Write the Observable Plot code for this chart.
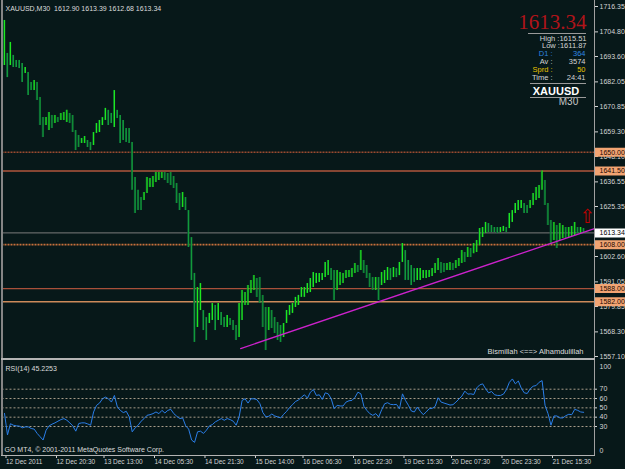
<!DOCTYPE html>
<html><head><meta charset="utf-8">
<script src="https://cdn.jsdelivr.net/npm/d3@7"></script>
<script src="https://cdn.jsdelivr.net/npm/@observablehq/plot@0.6"></script>
<style>
body{margin:0;background:#071819;}
#wrap{position:relative;width:625px;height:469px;overflow:hidden;background:#071819;}
#top{position:absolute;left:0;top:0;}
#bot{position:absolute;left:0;top:361px;}
.ln{position:absolute;z-index:5;}
</style></head><body>
<div id="wrap">
<div id="top"></div><div id="bot"></div>
<div class="ln" style="left:1px;top:0;width:2px;height:456px;background:#858585"></div>
<div class="ln" style="left:594px;top:0;width:1px;height:456px;background:#a0a0a0"></div>
<div class="ln" style="left:1px;top:358px;width:594px;height:2px;background:#b4b4b4"></div>
<div class="ln" style="left:1px;top:455px;width:594px;height:1px;background:#b4b4b4"></div>
<div class="ln" style="left:528px;top:33px;width:58px;height:1px;background:#9a9a9a"></div>
<div class="ln" style="left:530px;top:83px;width:56px;height:1px;background:#9a9a9a"></div>
<div class="ln" style="left:530px;top:97px;width:56px;height:1px;background:#9a9a9a"></div>
</div>
<script>
// ---------- data ----------
const symbol = "XAUUSD", period = "M30";
const lastOHLC = [1612.90, 1613.39, 1612.68, 1613.34];
const bid = 1613.34;
const dayHigh = 1615.51, dayLow = 1611.87, d1 = 364, avg = 3574, spread = 50, timeLeft = "24:41";

const hi = [1710.0,1695.0,1700.0,1694.1,1691.8,1691.8,1690.4,1688.6,1686.3,1681.8,
1682.7,1681.8,1675.0,1665.8,1665.8,1668.1,1666.8,1666.8,1665.8,1667.7,
1668.1,1669.1,1667.7,1666.8,1659.9,1657.7,1656.3,1657.2,1655.4,1654.5,
1659.0,1663.1,1664.5,1665.8,1670.0,1669.1,1667.7,1678.1,1669.1,1666.8,
1664.5,1660.8,1660.8,1654.5,1638.6,1632.7,1629.4,1631.7,1638.6,1638.1,
1639.0,1640.8,1640.8,1640.8,1640.8,1640.4,1640.8,1639.0,1635.8,1631.3,
1631.7,1629.4,1623.5,1611.2,1594.9,1588.5,1590.3,1578.0,1574.8,1576.7,
1581.2,1580.3,1581.2,1577.1,1574.8,1575.8,1574.4,1573.5,1571.2,1581.2,
1587.1,1586.2,1589.4,1591.7,1593.9,1592.6,1593.0,1584.9,1579.4,1579.4,
1578.0,1574.8,1572.6,1571.2,1572.1,1578.0,1580.3,1581.2,1584.0,1584.9,
1588.5,1588.5,1590.3,1592.6,1595.3,1594.9,1594.9,1594.9,1599.9,1600.8,
1597.1,1596.2,1596.2,1595.3,1594.9,1596.2,1596.2,1597.1,1599.4,1598.5,
1605.3,1600.8,1598.5,1594.9,1593.0,1593.0,1593.0,1595.3,1596.2,1597.6,
1597.1,1597.6,1597.1,1599.9,1608.5,1605.3,1600.8,1598.5,1597.1,1597.1,
1597.1,1596.2,1596.2,1596.2,1597.1,1599.4,1601.7,1599.9,1599.4,1599.4,
1599.9,1599.4,1600.8,1601.7,1605.3,1604.4,1606.7,1606.2,1608.5,1609.9,
1615.3,1615.8,1618.1,1617.6,1616.7,1615.8,1615.8,1615.8,1616.3,1615.8,
1622.2,1623.5,1626.7,1628.1,1628.1,1626.7,1625.8,1628.1,1631.3,1634.0,
1634.9,1641.5,1637.2,1626.7,1619.0,1618.1,1616.7,1617.6,1616.7,1615.8,
1615.8,1616.3,1618.1,1615.8,1615.8,1615.3];
const lo = [1689.5,1684.0,1689.5,1688.6,1688.6,1688.1,1681.8,1685.9,1675.9,1678.1,
1678.1,1673.6,1662.2,1656.7,1662.2,1659.9,1660.8,1663.1,1663.6,1664.5,
1664.5,1663.6,1663.1,1659.0,1650.8,1652.2,1654.0,1654.0,1652.2,1650.8,
1653.1,1658.6,1659.0,1662.2,1664.5,1662.2,1663.1,1661.3,1665.4,1654.0,
1655.4,1654.5,1654.0,1632.7,1622.2,1623.5,1623.5,1628.1,1631.3,1634.0,
1634.0,1636.3,1637.2,1638.1,1637.2,1635.8,1634.9,1633.5,1626.7,1623.5,
1624.9,1623.5,1606.7,1591.7,1563.5,1570.3,1578.0,1568.9,1564.4,1572.1,
1573.5,1568.9,1573.5,1571.2,1570.3,1570.3,1571.2,1568.9,1564.4,1565.7,
1573.5,1580.3,1580.3,1585.8,1587.1,1584.0,1581.2,1570.3,1559.8,1568.9,
1569.8,1567.6,1564.4,1563.5,1565.7,1572.1,1575.8,1576.7,1579.4,1580.3,
1584.0,1584.0,1585.8,1586.2,1588.5,1590.3,1590.8,1591.7,1593.0,1593.9,
1591.7,1582.6,1587.1,1589.4,1590.3,1592.6,1593.0,1593.0,1594.9,1595.3,
1596.2,1594.9,1592.6,1588.5,1587.1,1587.1,1582.6,1589.4,1590.3,1591.7,
1591.7,1593.0,1593.0,1593.9,1599.9,1591.7,1591.7,1589.4,1590.8,1591.7,
1591.7,1592.6,1592.6,1593.0,1593.5,1594.9,1596.2,1594.9,1595.3,1596.2,
1596.2,1596.2,1597.1,1598.0,1599.4,1599.9,1602.1,1602.1,1603.9,1604.4,
1607.6,1611.2,1613.1,1613.5,1613.5,1613.5,1613.1,1613.5,1614.0,1613.5,
1615.3,1618.1,1622.2,1623.5,1624.4,1622.2,1622.2,1624.4,1625.8,1628.1,
1629.0,1632.7,1625.8,1616.7,1608.5,1609.9,1606.2,1609.9,1610.8,1610.8,
1611.2,1611.7,1612.2,1613.1,1613.1,1613.1];
const rsi = [44,21,33,31.4,30.7,30.4,28.6,29.6,29.6,27.9,
27.2,22.6,19,15.5,26,30.7,32.5,33.9,35.7,37.4,
38.5,36.7,33.9,30.7,25,33.2,33.9,33.9,32.8,31.4,
45.6,52.7,55.1,59.7,61.5,59.7,56.2,63.3,50.9,47.3,
44.9,46.3,40.3,24.3,28.6,31.4,35.7,38.5,42.0,42.7,
43.8,45.6,43.8,47.3,44.5,47.3,48.4,43.8,41,38.5,
39.2,30.7,27.2,15.5,13,24.3,25,22.6,26.1,30.7,
32.1,35.0,36.7,38.5,36.7,38.5,37.4,35.7,31.4,40.3,
58,59.7,55.1,59.7,59.7,58.7,54.4,44.9,40.3,41,
43.4,41.3,40.3,39.2,43.1,46.3,50.5,53.4,56.9,58.3,
61.5,64,60.4,66.8,69.6,63.3,64,59,66.1,65,
59.7,49.1,52.7,52,52,56.2,57.6,58.0,61.2,66.8,
65,51.6,47.3,43.8,42,43.8,40.3,48,54.4,55.5,
53.7,53.4,53.7,49.1,65,58,52.7,46.6,45.6,50.9,
46.3,42.7,45.6,49.1,49.5,51.6,60.8,56.2,55.1,54.1,
53,53.4,56.2,59.4,62.6,67.9,64.7,65,64.3,71.4,
74.6,75.7,70.4,66.1,67.5,64,63.3,63.3,64.7,69.6,
77.4,81,75.7,78.8,71.1,66.1,65.4,70.4,73.2,73.9,
77.4,79.2,52.7,43.8,31.4,41.3,41.3,39.2,39.2,41.6,
43.1,42.7,48.4,47.3,45.6,45.2253];
const rsiLast = 45.2253;

const levels = [1650.00, 1641.50, 1608.00, 1588.00, 1582.00];
const priceTicks = [1716.35,1704.80,1693.60,1682.05,1670.85,1659.30,1648.10,1636.55,1625.35,1613.80,1602.60,1591.05,1579.85,1568.30,1557.10];
const trendPts = [{bar: 79.5, price: 1560.7}, {bar: 198.65, price: 1615.3}];
const arrowPt = [{bar: 196.2, price: 1620.5}];
const rsiLevels = [70, 60, 50, 40, 30];
const rsiTicks = [70, 60, 50, 40, 30];
const tickBars = [0, 17, 33, 50, 67, 84, 100, 117, 134, 150, 167, 184];
const tickLabels = ["12 Dec 2011","12 Dec 20:30","13 Dec 13:00","14 Dec 05:30","14 Dec 21:30","15 Dec 14:00","16 Dec 06:30","16 Dec 22:30","19 Dec 15:30","20 Dec 07:30","20 Dec 23:30","21 Dec 15:30"];
const footerText = "Bismillah <==> Alhamdulillah";
const copyright = "GO MT4, © 2001-2011 MetaQuotes Software Corp.";

// ---------- styles ----------
const FONT = "'Liberation Sans', Arial, sans-serif";
const levelColors = ["#9a4a30", "#b0563c", "#c8703c", "#a8503a", "#cc8a5a"];
const levelDash = ["2,1", null, "2,1", null, null];
const xEnd = 198.65;
const xScale = {domain: [0, xEnd], range: [4, 594]};

const bars = hi.map((h, i) => ({bar: i, hi: h, lo: lo[i], mid: (h + lo[i]) / 2}));
bars.forEach((b, k) => { b.up = k === 0 ? true : b.mid >= bars[k - 1].mid; });
const labelOf = new Map(tickBars.map((b, i) => [b, tickLabels[i]]));

const levelMarks = levels.map((v, k) => Plot.ruleY([v], {stroke: levelColors[k], strokeWidth: levelDash[k] ? 1.6 : 1.4, strokeDasharray: levelDash[k]}));

const info = (txt, dx, dy, opts = {}) => Plot.text([txt], {frameAnchor: "top-right", dx, dy, textAnchor: "end", lineAnchor: "middle", fill: "#d4d4d4", fontSize: 7.5, ...opts});

const topPlot = Plot.plot({
  width: 625, height: 360,
  marginLeft: 1.5, marginRight: 31, marginTop: 0, marginBottom: 2,
  x: {...xScale, axis: null},
  y: {domain: [1557.10, 1716.35], range: [356, 6], axis: null},
  style: {background: "transparent", fontFamily: FONT, fontSize: "7px", color: "#d4d4d4", overflow: "visible"},
  marks: [
    ...levelMarks,
    Plot.ruleY([bid], {stroke: "#7c7c7c", strokeWidth: 1}),
    Plot.ruleX(bars, {x: "bar", y1: "lo", y2: "hi", dx: -0.8, stroke: "#0c5a36", strokeWidth: 1}),
    Plot.ruleX(bars, {x: "bar", y1: "lo", y2: "hi", stroke: d => d.up ? "#1ee81e" : "#129a3a", strokeWidth: 1.3}),
    Plot.line(trendPts, {x: "bar", y: "price", stroke: "#cc22cc", strokeWidth: 1.3}),
    Plot.text(arrowPt, {x: "bar", y: "price", text: () => "⇧", fill: "#c00000", fontSize: 19, fontFamily: "DejaVu Sans"}),
    Plot.axisY(priceTicks, {anchor: "right", tickSize: 3, tickPadding: 2, tickFormat: d => d.toFixed(2), color: "#d4d4d4"}),
    Plot.ruleY(levels, {y: d => d, x1: xEnd + 0.3, x2: xEnd + 11, stroke: "#f2a473", strokeWidth: 9}),
    Plot.text(levels, {x: xEnd, y: d => d, text: d => d.toFixed(2), dx: 5, textAnchor: "start", fill: "#1a0800"}),
    Plot.ruleY([bid], {x1: xEnd + 0.3, x2: xEnd + 11, stroke: "#ffffff", strokeWidth: 9}),
    Plot.text([bid], {x: xEnd, y: d => d, text: d => d.toFixed(2), dx: 5, textAnchor: "start", fill: "#000000"}),
    Plot.text([`${symbol},${period}  ${lastOHLC.map(d => d.toFixed(2)).join(" ")}`], {frameAnchor: "top-left", dx: 3.5, dy: 8, textAnchor: "start", lineAnchor: "middle", fill: "#dcdcdc"}),
    info(bid.toFixed(2), -8, 22, {fontFamily: "'Liberation Serif', serif", fontSize: 21, fill: "#b0141a"}),
    info(`High :${dayHigh.toFixed(2)}`, -8, 38),
    info(`Low :${dayLow.toFixed(2)}`, -8, 45.5),
    info("D1 :", -42, 53.5, {fill: "#2f86e0"}),
    info(String(d1), -9, 53.5, {fill: "#2f86e0"}),
    info("Av :", -42, 61),
    info(String(avg), -9, 61),
    info("Sprd :", -42, 69, {fill: "#e6c200"}),
    info(String(spread), -9, 69, {fill: "#e6c200"}),
    info("Time :", -42, 77),
    info(timeLeft, -9, 77),
    Plot.text([symbol], {frameAnchor: "top-right", dx: -38.5, dy: 91, textAnchor: "middle", lineAnchor: "middle", fill: "#ffffff", fontWeight: "bold", fontSize: 11}),
    Plot.text([period], {frameAnchor: "top-right", dx: -26, dy: 101.5, textAnchor: "middle", lineAnchor: "middle", fill: "#c8c8c8", fontSize: 10}),
    Plot.text([footerText], {frameAnchor: "bottom-right", dx: -11, dy: -6.5, textAnchor: "end", lineAnchor: "middle", fill: "#dcdcdc", fontSize: 7.5})
  ]
});
document.getElementById("top").appendChild(topPlot);

const botPlot = Plot.plot({
  width: 625, height: 108,
  marginLeft: 1.5, marginRight: 31, marginTop: 0, marginBottom: 14,
  x: {...xScale, axis: null},
  y: {domain: [0, 100], range: [93, -0.3], axis: null},
  style: {background: "transparent", fontFamily: FONT, fontSize: "7px", color: "#d4d4d4", overflow: "visible"},
  marks: [
    Plot.ruleY(rsiLevels, {y: d => d, stroke: "#a89c8a", strokeDasharray: "2,2", strokeWidth: 1}),
    Plot.line(rsi, {x: (d, i) => i, y: d => d, stroke: "#2a7ee8", strokeWidth: 1}),
    Plot.axisY(rsiTicks, {anchor: "right", tickSize: 2, tickPadding: 3, color: "#d4d4d4"}),
    Plot.text([100], {x: xEnd, y: d => d, text: d => String(d), dx: 5, dy: 5.5, textAnchor: "start", fill: "#d4d4d4"}),
    Plot.text([0], {x: xEnd, y: d => d, text: d => String(d), dx: 5, dy: -4, textAnchor: "start", fill: "#d4d4d4"}),
    Plot.axisX(tickBars, {anchor: "bottom", tickSize: 3, tickPadding: 1, tickFormat: d => labelOf.get(d), textAnchor: "start", dx: 1.5, color: "#d4d4d4", fontSize: 6.5}),
    Plot.text([`RSI(14) ${rsiLast.toFixed(4)}`], {frameAnchor: "top-left", dx: 3.5, dy: 7, textAnchor: "start", lineAnchor: "middle", fill: "#dcdcdc"}),
    Plot.text([copyright], {frameAnchor: "top-left", dx: 2.5, dy: 88, textAnchor: "start", lineAnchor: "middle", fill: "#dcdcdc"})
  ]
});
document.getElementById("bot").appendChild(botPlot);
</script>
</body></html>
